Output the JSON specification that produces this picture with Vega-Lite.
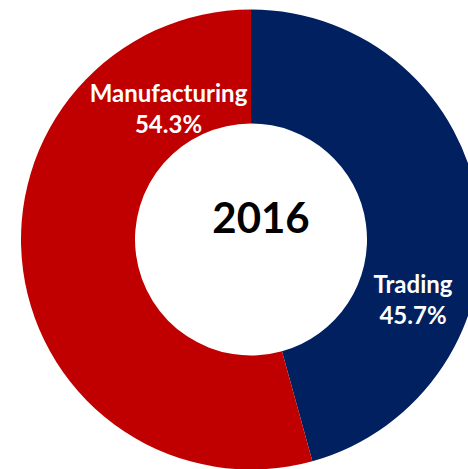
{
  "$schema": "https://vega.github.io/schema/vega-lite/v6.json",
  "width": 434,
  "height": 459,
  "autosize": {"type": "none"},
  "padding": {"left": 34, "top": 10, "right": 0, "bottom": 0},
  "background": "white",
  "config": {"view": {"stroke": null}},
  "data": {
    "values": [
      {"category": "Trading", "value": 45.7, "order": 1},
      {"category": "Manufacturing", "value": 54.3, "order": 2}
    ]
  },
  "layer": [
    {
      "mark": {"type": "arc", "outerRadius": 230, "innerRadius": 116},
      "encoding": {
        "theta": {"field": "value", "type": "quantitative", "stack": true},
        "order": {"field": "order", "type": "quantitative"},
        "color": {
          "field": "category",
          "type": "nominal",
          "scale": {"domain": ["Trading", "Manufacturing"], "range": ["#002060", "#C00000"]},
          "legend": null
        }
      }
    },
    {
      "transform": [
        {"filter": "datum.category === 'Manufacturing'"},
        {"calculate": "datum.category + '\\n' + format(datum.value, '.1f') + '%'", "as": "label"}
      ],
      "mark": {"type": "text", "lineBreak": "\n", "align": "center", "baseline": "alphabetic", "font": "Lato", "fontWeight": "bold", "fontSize": 24, "lineHeight": 31.5, "color": "white", "dx": -82.5, "dy": -137.8},
      "encoding": {"text": {"field": "label"}}
    },
    {
      "transform": [
        {"filter": "datum.category === 'Trading'"},
        {"calculate": "datum.category + '\\n' + format(datum.value, '.1f') + '%'", "as": "label"}
      ],
      "mark": {"type": "text", "lineBreak": "\n", "align": "center", "baseline": "alphabetic", "font": "Lato", "fontWeight": "bold", "fontSize": 24, "lineHeight": 31, "color": "white", "dx": 162, "dy": 53.8},
      "encoding": {"text": {"field": "label"}}
    },
    {
      "data": {"values": [{"year": "2016"}]},
      "mark": {"type": "text", "align": "center", "baseline": "alphabetic", "font": "Lato", "fontWeight": "bold", "fontSize": 42, "color": "black", "dx": 10, "dy": -6.5},
      "encoding": {"text": {"field": "year"}}
    }
  ]
}
